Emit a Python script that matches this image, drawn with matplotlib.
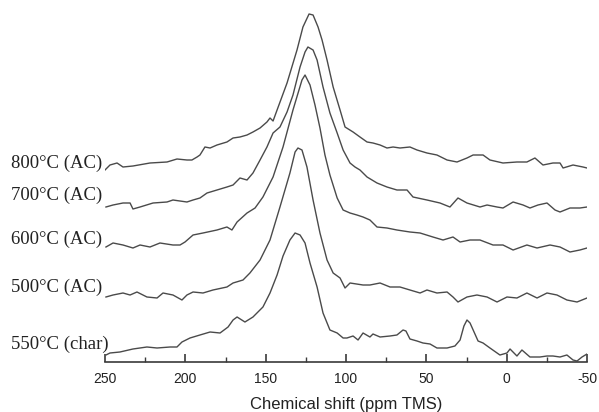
import numpy as np
import matplotlib
matplotlib.use("Agg")
import matplotlib.pyplot as plt
from matplotlib.ticker import MultipleLocator

plt.rcParams["axes.unicode_minus"] = False

# 13C NMR spectra, stacked (intensity in a.u. already includes vertical offset)

ppm_800 = [250, 246.9, 242.5, 238.8, 232.6, 222.0, 211.4, 205.2, 199.0, 195.9, 192.7, 190.9, 187.8, 184.6,
           180.3, 174.1, 170.3, 166.0, 161.6, 157.9, 153.5, 149.2, 147.3, 145.4, 142.9, 136.7, 130.5, 126.8,
           123.0, 120.5, 117.4, 114.9, 111.8, 108.0, 103.7, 100.6, 95.6, 91.3, 86.9, 83.2, 78.8, 74.5, 70.7,
           66.4, 60.2, 55.8, 49.6, 43.4, 37.1, 30.9, 24.7, 20.9, 14.7, 10.4, 2.3, -6.4, -12.6, -17.6, -22.6,
           -28.8, -33.2, -35.1, -41.3, -47.5, -50]
int_800 = [192, 197, 199, 195, 196, 199, 200, 203, 202, 202, 205, 207, 215, 214,
           217, 220, 224, 225, 227, 230, 234, 240, 244, 241, 252, 279, 312, 335,
           348, 347, 335, 322, 302, 275, 252, 235, 230, 225, 220, 219, 217, 214, 215,
           214, 215, 212, 209, 207, 202, 200, 204, 207, 207, 202, 199, 200, 200, 204, 197,
           199, 199, 194, 197, 195, 194]

ppm_700 = [249.4, 245.0, 238.8, 234.4, 232.6, 228.2, 220.1, 211.4, 207.7, 199.0, 195.2, 190.9, 186.5, 180.3,
           174.1, 170.3, 166.0, 161.6, 157.9, 153.5, 149.2, 145.4, 141.1, 136.7, 133.0, 128.6, 125.5, 123.7,
           120.5, 118.0, 114.3, 110.0, 105.5, 101.8, 97.5, 94.4, 91.3, 86.9, 80.7, 74.5, 68.3, 62.0, 58.3,
           49.6, 41.5, 35.3, 30.3, 24.7, 16.6, 12.2, 6.0, 2.3, -4.0, -10.2, -14.5, -19.5, -25.1, -30.1,
           -33.2, -39.4, -45.6, -50]
int_700 = [155, 157, 159, 159, 153, 155, 159, 160, 162, 160, 162, 164, 169, 172,
           175, 177, 184, 182, 189, 202, 215, 229, 235, 250, 267, 295, 310, 315,
           312, 302, 275, 249, 229, 212, 199, 195, 192, 185, 179, 175, 172, 172, 165,
           162, 159, 155, 164, 159, 155, 157, 155, 154, 160, 157, 154, 157, 159, 152,
           150, 154, 154, 155]

ppm_600 = [249.4, 245.0, 238.8, 232.6, 228.2, 222.0, 215.8, 207.7, 203.3, 200.2, 195.2, 189.0, 180.3, 174.1,
           171.0, 167.8, 161.6, 156.6, 151.7, 145.4, 139.2, 133.0, 127.4, 125.5, 122.4, 119.3, 116.2, 113.1,
           110.0, 105.5, 101.8, 97.5, 93.2, 89.4, 85.1, 80.7, 74.5, 68.3, 60.2, 53.9, 45.9, 39.6, 33.4,
           29.0, 22.8, 16.6, 8.5, 2.3, -4.0, -12.6, -18.9, -27.0, -33.2, -39.4, -45.6, -50]
int_600 = [115, 119, 117, 114, 117, 115, 119, 117, 117, 120, 127, 129, 132, 135,
           132, 140, 149, 154, 165, 185, 215, 252, 282, 287, 277, 257, 234, 207,
           187, 164, 152, 149, 147, 145, 142, 135, 134, 132, 130, 129, 125, 122, 125,
           120, 122, 122, 117, 117, 112, 117, 114, 117, 115, 110, 112, 114]

ppm_500 = [249.4, 245.0, 238.8, 234.4, 230.1, 223.9, 217.6, 213.9, 207.7, 202.1, 199.0, 195.2, 189.0, 182.8,
           174.1, 170.3, 164.1, 159.8, 153.5, 147.3, 141.1, 134.9, 131.7, 129.9, 127.4, 124.3, 120.5, 116.2,
           111.8, 108.0, 103.7, 100.6, 97.5, 89.4, 85.1, 78.8, 72.6, 66.4, 60.2, 53.9, 49.6, 43.4, 37.1,
           33.4, 30.3, 24.7, 18.5, 12.2, 6.0, -0.2, -6.4, -12.6, -18.9, -25.1, -31.3, -37.5, -43.8, -50]
int_500 = [65, 67, 69, 67, 70, 65, 64, 69, 67, 62, 67, 70, 69, 72,
           75, 79, 82, 89, 102, 122, 155, 189, 210, 214, 212, 195, 162, 129,
           102, 89, 84, 74, 79, 77, 77, 79, 75, 75, 72, 69, 72, 69, 70,
           65, 60, 65, 67, 65, 60, 65, 64, 69, 64, 69, 67, 62, 60, 64]

ppm_char = [249.4, 246.9, 240.7, 232.6, 223.9, 217.6, 209.5, 205.2, 202.1, 197.1, 190.9, 184.6, 178.4, 173.4,
            170.3, 167.8, 162.9, 157.9, 151.7, 147.3, 142.9, 139.2, 134.9, 131.7, 128.6, 125.5, 122.4, 118.0,
            114.3, 110.0, 105.5, 101.8, 99.4, 95.6, 92.5, 89.4, 85.1, 83.2, 78.8, 72.6, 68.3, 64.5, 62.7,
            60.2, 55.8, 52.1, 47.7, 43.4, 37.1, 32.2, 29.0, 26.6, 24.7, 22.8, 20.3, 17.8, 14.7, 10.4, 4.2,
            -0.2, -2.1, -6.4, -9.5, -14.5, -20.7, -25.1, -28.8, -33.2, -37.5, -41.3, -43.8, -46.9, -50]
int_char = [7, 9, 10, 13, 15, 14, 15, 15, 20, 24, 27, 30, 29, 35,
            42, 45, 40, 45, 55, 69, 87, 106, 122, 129, 127, 119, 99, 75,
            49, 32, 29, 24, 24, 26, 22, 29, 25, 28, 25, 26, 27, 32, 31,
            23, 21, 19, 18, 14, 14, 16, 22, 36, 42, 39, 30, 21, 19, 14, 7,
            9, 13, 6, 12, 5, 5, 6, 6, 5, 7, 2, 1, 5, 8]

labels = ["800°C (AC)", "700°C (AC)", "600°C (AC)", "500°C (AC)", "550°C (char)"]
label_level = [199, 167, 123, 75, 18]

fig = plt.figure(figsize=(5.99, 4.12), dpi=100)
ax = fig.add_axes([105 / 599, 50 / 412, 482 / 599, 362 / 412])

line_col = "#4a4a4a"
for xs, ys in [(ppm_800, int_800), (ppm_700, int_700), (ppm_600, int_600),
               (ppm_500, int_500), (ppm_char, int_char)]:
    ax.plot(xs, ys, color=line_col, lw=1.0)

ax.set_xlim(250, -50)
ax.set_ylim(0, 362)
for s in ["left", "right", "top"]:
    ax.spines[s].set_visible(False)
ax.spines["bottom"].set_color("#3a3a3a")
ax.spines["bottom"].set_linewidth(1.2)
ax.set_yticks([])
ax.xaxis.set_major_locator(MultipleLocator(50))
ax.xaxis.set_minor_locator(MultipleLocator(25))
ax.tick_params(axis="x", which="major", direction="in", length=6, width=1.2, color="#3a3a3a",
               pad=7, labelsize=10, labelcolor="#222222")
ax.tick_params(axis="x", which="minor", direction="in", length=3.5, width=1.0, color="#3a3a3a")
for t in ax.get_xticklabels():
    t.set_fontfamily("Liberation Sans")
ax.set_xlabel("Chemical shift (ppm TMS)", fontsize=12, family="Liberation Sans",
              color="#222222", labelpad=8)

# left-hand labels in data y units, placed in figure x
for lab, lev in zip(labels, label_level):
    ax.text(-94 / 482, lev, lab, transform=ax.get_yaxis_transform(), ha="left", va="center",
            fontsize=13.5, family="Liberation Serif", color="#222222")

fig.savefig("out.png", dpi=100)
